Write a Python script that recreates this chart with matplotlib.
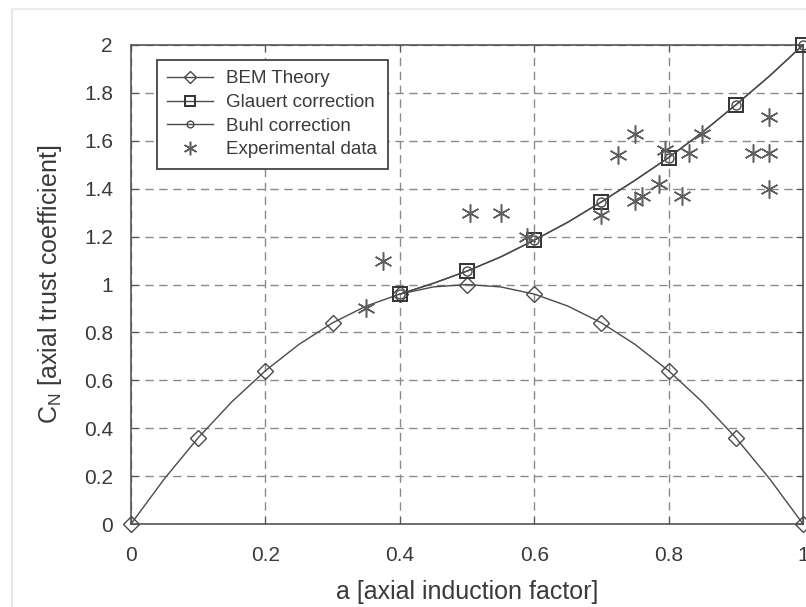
import matplotlib
matplotlib.use("Agg")
import matplotlib.pyplot as plt
from matplotlib.lines import Line2D

plt.rcParams['font.family'] = ['Liberation Sans', 'DejaVu Sans']
plt.rcParams['mathtext.fontset'] = 'custom'
plt.rcParams['mathtext.rm'] = 'Liberation Sans'
plt.rcParams['mathtext.it'] = 'Liberation Sans:italic'

# ---- data ----
a_line = [0.0, 0.05, 0.1, 0.15, 0.2, 0.25, 0.3, 0.35, 0.4, 0.45, 0.5,
          0.55, 0.6, 0.65, 0.7, 0.75, 0.8, 0.85, 0.9, 0.95, 1.0]
bem_cn = [0.0, 0.19, 0.36, 0.51, 0.64, 0.75, 0.84, 0.91, 0.96, 0.99, 1.0,
          0.99, 0.96, 0.91, 0.84, 0.75, 0.64, 0.51, 0.36, 0.19, 0.0]

a_corr = [0.4, 0.45, 0.5, 0.55, 0.6, 0.65, 0.7, 0.75, 0.8, 0.85, 0.9, 0.95, 1.0]
glauert_cn = [0.96, 1.005, 1.056, 1.115, 1.185, 1.26, 1.345, 1.435, 1.53, 1.635, 1.75, 1.87, 2.0]
buhl_cn = [0.96, 1.005, 1.056, 1.115, 1.185, 1.26, 1.345, 1.435, 1.53, 1.635, 1.75, 1.87, 2.0]

exp_a = [0.35, 0.375, 0.505, 0.55, 0.59, 0.70, 0.725, 0.75, 0.75, 0.76, 0.785,
         0.795, 0.82, 0.83, 0.85, 0.925, 0.95, 0.95, 0.95]
exp_cn = [0.90, 1.10, 1.30, 1.30, 1.20, 1.29, 1.54, 1.63, 1.35, 1.37, 1.42,
          1.56, 1.37, 1.55, 1.63, 1.55, 1.70, 1.55, 1.40]

x_ticks = [0, 0.2, 0.4, 0.6, 0.8, 1]
x_tick_labels = ['0', '0.2', '0.4', '0.6', '0.8', '1']
y_ticks = [0, 0.2, 0.4, 0.6, 0.8, 1, 1.2, 1.4, 1.6, 1.8, 2]
y_tick_labels = ['0', '0.2', '0.4', '0.6', '0.8', '1', '1.2', '1.4', '1.6', '1.8', '2']

# ---- plot ----
fig = plt.figure(figsize=(8.06, 6.07), dpi=100)
ax = fig.add_axes([131/806, 1-524/607, 672/806, 479/607])

# faint screenshot frame
fig.add_artist(Line2D([12/806, 12/806], [0, 1-9/607], transform=fig.transFigure,
                      color='#e8e8e8', lw=1.5))
fig.add_artist(Line2D([12/806, 1], [1-9/607, 1-9/607], transform=fig.transFigure,
                      color='#ececec', lw=1.5))

lc = '#4a4a4a'
ax.plot(a_line, bem_cn, color=lc, lw=1.0, marker='D', markevery=2, ms=8.5,
        mfc='none', mec=lc, mew=1.0, label='BEM Theory', clip_on=False, zorder=3)
ax.plot(a_corr, glauert_cn, color=lc, lw=1.0, marker='s', markevery=2, ms=10.5,
        mfc='none', mec='#333333', mew=1.4, label='Glauert correction', clip_on=False, zorder=3)
ax.plot(a_corr, buhl_cn, color=lc, lw=1.0, marker='o', markevery=2, ms=6.5,
        mfc='none', mec=lc, mew=1.0, label='Buhl correction', clip_on=False, zorder=3)
ax.plot(exp_a, exp_cn, ls='none', marker=(6, 2, 0), ms=13, mec='#5f5f5f', mew=1.1,
        label='Experimental data', zorder=3)

ax.set_xlim(0, 1)
ax.set_ylim(0, 2)
ax.set_xticks(x_ticks)
ax.set_xticklabels(x_tick_labels)
ax.set_yticks(y_ticks)
ax.set_yticklabels(y_tick_labels)
ax.tick_params(direction='in', length=5, width=0.8, colors='#555555',
               labelcolor='#3a3a3a', labelsize=15, top=True, right=True, pad=13)
ax.tick_params(axis='x', pad=15.5)
ax.grid(True, color='#8a8a8a', ls=(0, (6, 4)), lw=1.0)
for s in ax.spines.values():
    s.set_color('#555555')
    s.set_linewidth(1.2)

ax.set_xlabel('a [axial induction factor]', fontsize=18, color='#3a3a3a', labelpad=11)
ax.set_ylabel(r'C$_\mathrm{N}$ [axial trust coefficient]', fontsize=18, color='#3a3a3a', labelpad=14)

leg = ax.legend(loc='upper left', bbox_to_anchor=(0.0387, 0.9687), borderaxespad=0,
                fancybox=False, edgecolor='#444444', framealpha=1, fontsize=13.5,
                handlelength=2.45, handletextpad=0.7, labelspacing=0.35,
                borderpad=0.55, numpoints=1, markerscale=0.75)
leg.get_frame().set_linewidth(1.3)
for t in leg.get_texts():
    t.set_color('#3a3a3a')

fig.savefig('out.png', dpi=100)
